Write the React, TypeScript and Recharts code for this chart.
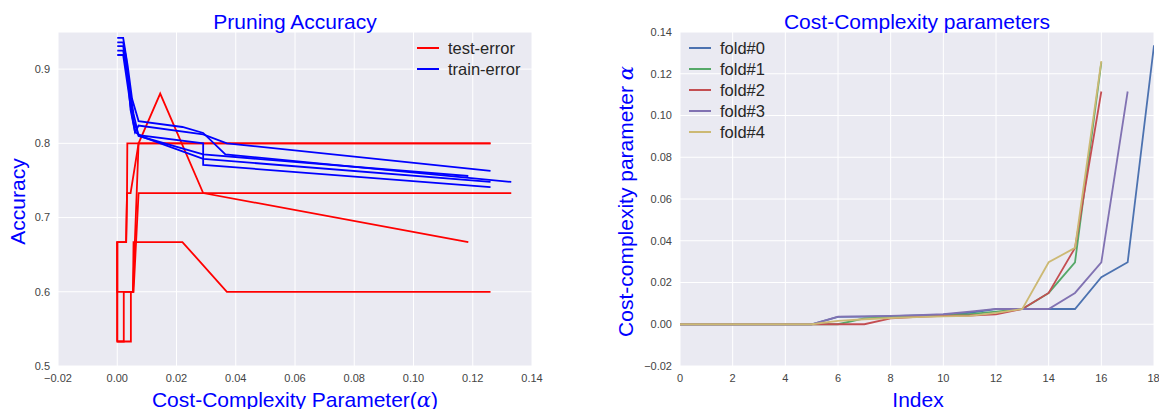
import React from 'react';
import { LineChart, Line, XAxis, YAxis, CartesianGrid, Legend } from 'recharts';

const FONT = '"Liberation Sans", Arial, Helvetica, sans-serif';
const BLUE_TEXT = '#0000FF';
const TICK_COLOR = '#444';

// ---------- Left panel: pruning accuracy (alpha vs accuracy), 5 folds ----------
const test0Alpha = [0, 0, 0.0022, 0.0022, 0.0053, 0.0055, 0.022, 0.037, 0.126];
const test0Acc = [0.6, 0.533, 0.533, 0.6, 0.6, 0.667, 0.667, 0.6, 0.6];
const test1Alpha = [0, 0, 0.003, 0.0033, 0.0034, 0.126];
const test1Acc = [0.6, 0.667, 0.667, 0.733, 0.8, 0.8];
const test2Alpha = [0, 0, 0.003, 0.0033, 0.0045, 0.0072, 0.0145, 0.029, 0.1185];
const test2Acc = [0.533, 0.667, 0.667, 0.733, 0.733, 0.8, 0.867, 0.733, 0.667];
const test3Alpha = [0, 0.0046, 0.0046, 0.0055, 0.0072, 0.133];
const test3Acc = [0.533, 0.533, 0.6, 0.6, 0.733, 0.733];
const test4Alpha = [0, 0, 0.0053, 0.0072, 0.126];
const test4Acc = [0.667, 0.6, 0.6, 0.8, 0.8];

const train0Alpha = [0, 0.002, 0.0035, 0.005, 0.0072, 0.022, 0.029, 0.0365, 0.133];
const train0Acc = [0.942, 0.942, 0.905, 0.86, 0.83, 0.822, 0.814, 0.785, 0.748];
const train1Alpha = [0, 0.002, 0.003, 0.0045, 0.006, 0.0072, 0.029, 0.037, 0.126];
const train1Acc = [0.936, 0.936, 0.915, 0.845, 0.815, 0.824, 0.812, 0.8, 0.763];
const train2Alpha = [0, 0.002, 0.004, 0.0055, 0.0072, 0.029, 0.029, 0.126];
const train2Acc = [0.931, 0.931, 0.88, 0.83, 0.811, 0.8, 0.771, 0.741];
const train3Alpha = [0, 0.002, 0.0035, 0.0055, 0.0072, 0.029, 0.1185];
const train3Acc = [0.925, 0.925, 0.89, 0.84, 0.81, 0.785, 0.756];
const train4Alpha = [0, 0.002, 0.0038, 0.0045, 0.006, 0.009, 0.029, 0.126];
const train4Acc = [0.919, 0.919, 0.87, 0.85, 0.815, 0.808, 0.779, 0.748];

const leftXTicks = [-0.02, 0, 0.02, 0.04, 0.06, 0.08, 0.1, 0.12, 0.14];
const leftYTicks = [0.5, 0.6, 0.7, 0.8, 0.9];

// ---------- Right panel: cost-complexity alphas by index ----------
const indexCategories = [0, 1, 2, 3, 4, 5, 6, 7, 8, 9, 10, 11, 12, 13, 14, 15, 16, 17, 18];
const fold0 = [0, 0, 0, 0, 0, 0, 0.0035, 0.0037, 0.0039, 0.0042, 0.0046, 0.0055, 0.0072, 0.0073, 0.0073, 0.0073, 0.0225, 0.0297, 0.1336];
const fold1 = [0, 0, 0, 0, 0, 0, 0, 0.0028, 0.0034, 0.0038, 0.0042, 0.0048, 0.006, 0.0073, 0.015, 0.0297, 0.1255];
const fold2 = [0, 0, 0, 0, 0, 0, 0, 0, 0.0028, 0.0035, 0.004, 0.0042, 0.0047, 0.0073, 0.015, 0.0366, 0.1115];
const fold3 = [0, 0, 0, 0, 0, 0, 0.0037, 0.0038, 0.004, 0.0043, 0.0048, 0.006, 0.0074, 0.0073, 0.0073, 0.015, 0.0297, 0.1115];
const fold4 = [0, 0, 0, 0, 0, 0, 0.0016, 0.0024, 0.003, 0.0034, 0.0038, 0.004, 0.0055, 0.0073, 0.0297, 0.0366, 0.126];

const rightXTicks = [0, 2, 4, 6, 8, 10, 12, 14, 16, 18];
const rightYTicks = [-0.02, 0, 0.02, 0.04, 0.06, 0.08, 0.1, 0.12, 0.14];

const foldNames = ['fold#0', 'fold#1', 'fold#2', 'fold#3', 'fold#4'];
const foldColors = ['#4C72B0', '#55A868', '#C44E52', '#8172B2', '#CCB974'];
const foldSeries = [fold0, fold1, fold2, fold3, fold4];

const toPoints = (a: number[], v: number[]) => a.map((x, i) => ({ alpha: x, acc: v[i] }));

const testSeries = [
  toPoints(test0Alpha, test0Acc),
  toPoints(test1Alpha, test1Acc),
  toPoints(test2Alpha, test2Acc),
  toPoints(test3Alpha, test3Acc),
  toPoints(test4Alpha, test4Acc),
];
const trainSeries = [
  toPoints(train0Alpha, train0Acc),
  toPoints(train1Alpha, train1Acc),
  toPoints(train2Alpha, train2Acc),
  toPoints(train3Alpha, train3Acc),
  toPoints(train4Alpha, train4Acc),
];

const rightData = indexCategories.map((idx) => {
  const row: Record<string, number | undefined> = { idx };
  foldSeries.forEach((s, k) => {
    row['f' + k] = idx < s.length ? s[idx] : undefined;
  });
  return row;
});

const fmt = (d: number) => (v: number) => (v < 0 ? '\u2212' : '') + Math.abs(v).toFixed(d);

const tickStyle = { fill: TICK_COLOR, fontSize: 11, fontFamily: FONT };

const LegendBox = ({ items }: { items: { name: string; color: string }[] }) => (
  <div style={{ fontFamily: FONT }}>
    {items.map((it) => (
      <div key={it.name} style={{ display: 'flex', alignItems: 'center', height: 20.8 }}>
        <div style={{ width: 22, height: 2, background: it.color, marginRight: 9 }} />
        <span style={{ fontSize: 16.5, color: '#262626', lineHeight: '20px' }}>{it.name}</span>
      </div>
    ))}
  </div>
);

const Alpha = () => (
  <span style={{ fontFamily: '"DejaVu Serif", serif', fontStyle: 'italic' }}>α</span>
);

export default function App() {
  const textBase: React.CSSProperties = {
    position: 'absolute',
    fontFamily: FONT,
    fontSize: 21,
    lineHeight: '21px',
    color: BLUE_TEXT,
    textAlign: 'center',
    whiteSpace: 'nowrap',
  };
  return (
    <div style={{ position: 'absolute', left: 0, top: 0, width: 1159, height: 409, background: '#fff', overflow: 'hidden' }}>
      {/* Left chart */}
      <div style={{ position: 'absolute', left: 0, top: 0 }}>
        <LineChart width={560} height={409} margin={{ top: 32, right: 28, left: 0, bottom: 0 }}>
          <CartesianGrid fill="#EAEAF2" stroke="#FFFFFF" strokeWidth={1} />
          <XAxis
            dataKey="alpha"
            type="number"
            domain={[-0.02, 0.14]}
            ticks={leftXTicks}
            tickFormatter={fmt(2)}
            axisLine={false}
            tickLine={false}
            tickSize={0}
            tickMargin={8}
            height={43}
            tick={tickStyle}
            allowDataOverflow
          />
          <YAxis
            type="number"
            domain={[0.5, 0.95]}
            ticks={leftYTicks}
            tickFormatter={fmt(1)}
            axisLine={false}
            tickLine={false}
            tickSize={0}
            tickMargin={8}
            width={58}
            tick={tickStyle}
            allowDataOverflow
          />
          {testSeries.map((pts, i) => (
            <Line
              key={'test' + i}
              data={pts}
              dataKey="acc"
              type="linear"
              stroke="#FF0000"
              strokeWidth={1.8}
              dot={false}
              activeDot={false}
              isAnimationActive={false}
              name="test-error"
            />
          ))}
          {trainSeries.map((pts, i) => (
            <Line
              key={'train' + i}
              data={pts}
              dataKey="acc"
              type="linear"
              stroke="#0000FF"
              strokeWidth={1.8}
              dot={false}
              activeDot={false}
              isAnimationActive={false}
              name="train-error"
            />
          ))}
          <Legend
            layout="horizontal"
            verticalAlign="middle"
            align="center"
            wrapperStyle={{ top: 38, left: 417, width: 120, height: 44 }}
            content={() => (
              <LegendBox
                items={[
                  { name: 'test-error', color: '#FF0000' },
                  { name: 'train-error', color: '#0000FF' },
                ]}
              />
            )}
          />
        </LineChart>
      </div>

      {/* Right chart */}
      <div style={{ position: 'absolute', left: 600, top: 0 }}>
        <LineChart width={559} height={409} data={rightData} margin={{ top: 32, right: 5, left: 0, bottom: 0 }}>
          <CartesianGrid fill="#EAEAF2" stroke="#FFFFFF" strokeWidth={1} />
          <XAxis
            dataKey="idx"
            type="number"
            domain={[0, 18]}
            ticks={rightXTicks}
            axisLine={false}
            tickLine={false}
            tickSize={0}
            tickMargin={8}
            height={43}
            tick={tickStyle}
            allowDataOverflow
          />
          <YAxis
            type="number"
            domain={[-0.02, 0.14]}
            ticks={rightYTicks}
            tickFormatter={fmt(2)}
            axisLine={false}
            tickLine={false}
            tickSize={0}
            tickMargin={8}
            width={80}
            tick={tickStyle}
            allowDataOverflow
          />
          {foldNames.map((n, k) => (
            <Line
              key={n}
              dataKey={'f' + k}
              name={n}
              type="linear"
              stroke={foldColors[k]}
              strokeWidth={1.8}
              dot={false}
              activeDot={false}
              isAnimationActive={false}
            />
          ))}
          <Legend
            layout="horizontal"
            verticalAlign="middle"
            align="center"
            wrapperStyle={{ top: 38, left: 89, width: 110, height: 110 }}
            content={() => (
              <LegendBox items={foldNames.map((n, k) => ({ name: n, color: foldColors[k] }))} />
            )}
          />
        </LineChart>
      </div>

      {/* Titles */}
      <div style={{ ...textBase, left: 95, width: 400, top: 10.5 }}>Pruning Accuracy</div>
      <div style={{ ...textBase, left: 717, width: 400, top: 10.5 }}>Cost-Complexity parameters</div>

      {/* X axis labels */}
      <div style={{ ...textBase, left: 95, width: 400, top: 389 }}>
        Cost-Complexity Parameter(<Alpha />)
      </div>
      <div style={{ ...textBase, left: 718, width: 400, top: 389 }}>Index</div>

      {/* Y axis labels */}
      <div style={{ ...textBase, left: 16.5 - 150, width: 300, height: 21, top: 201 - 10.5, transform: 'rotate(-90deg)' }}>
        Accuracy
      </div>
      <div style={{ ...textBase, left: 625 - 170, width: 340, height: 21, top: 201 - 10.5, transform: 'rotate(-90deg)' }}>
        Cost-complexity parameter <Alpha />
      </div>
    </div>
  );
}
